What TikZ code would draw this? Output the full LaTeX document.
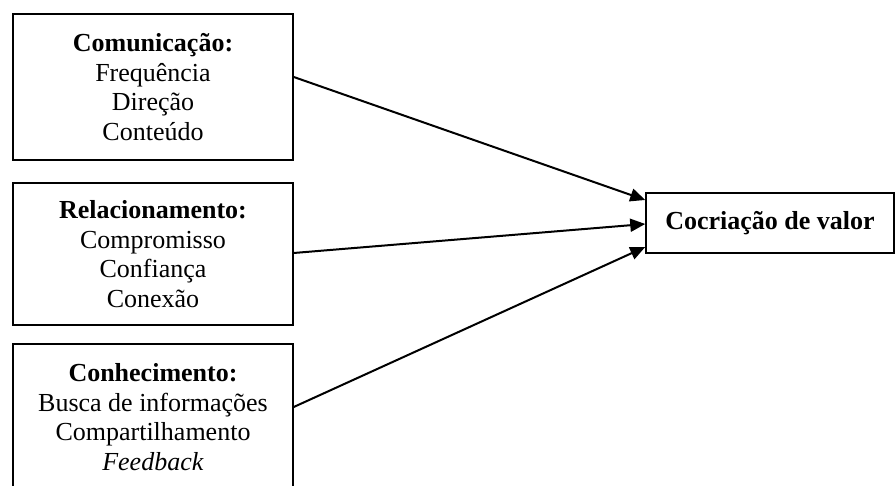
\documentclass[tikz,border=0pt]{standalone}
\usepackage{fontspec}
\setmainfont{Liberation Serif}
\usetikzlibrary{arrows.meta}
\begin{document}
\begin{tikzpicture}[x=1pt,y=1pt,
  factor/.style={draw, line width=1.5pt, minimum width=280pt, align=center,
    font=\fontsize{26}{29.5}\selectfont, inner sep=0pt},
  outcome/.style={draw, line width=1.5pt, minimum width=248pt, minimum height=60pt,
    font=\fontsize{26}{29.5}\selectfont\bfseries, inner sep=0pt},
  link/.style={line width=2pt, -{Triangle[length=15pt,width=13pt]}}]
\useasboundingbox (0,0) rectangle (895,486);
% left-hand factor boxes
\node[factor, minimum height=146pt] (com) at (153,399)
  {\textbf{Comunicação:}\\Frequência\\Direção\\Conteúdo};
\node[factor, minimum height=142pt] (rel) at (153,232)
  {\textbf{Relacionamento:}\\Compromisso\\Confiança\\Conexão};
\node[factor, minimum height=146pt] (con) at (153,69)
  {\textbf{Conhecimento:}\\Busca de informações\\Compartilhamento\\\textit{Feedback}};
% outcome box
\node[outcome] (val) at (770,263) {Cocriação de valor};
% connectors
\draw[link] ([yshift=10pt]com.east) -- ([yshift=23pt]val.west);
\draw[link] ([yshift=1pt]rel.east) -- ([yshift=-1pt]val.west);
\draw[link] ([yshift=10pt]con.east) -- ([yshift=-24pt]val.west);
\end{tikzpicture}
\end{document}
